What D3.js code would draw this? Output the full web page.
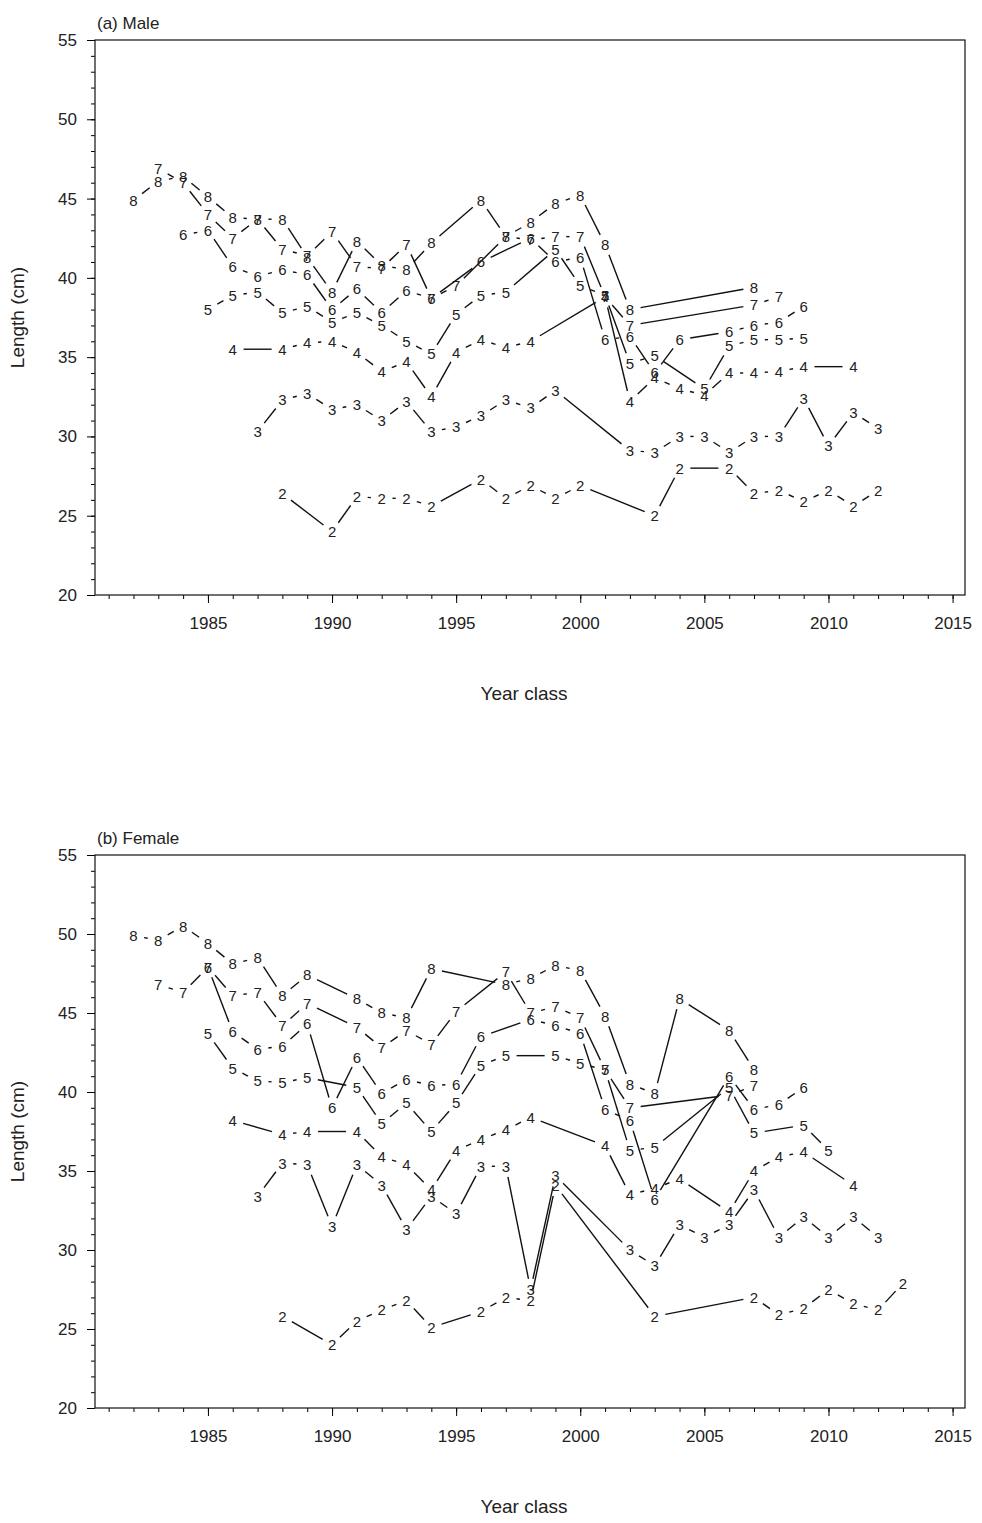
<!DOCTYPE html>
<html>
<head>
<meta charset="utf-8">
<script src="https://cdn.jsdelivr.net/npm/d3@7"></script>
<style>
body { margin: 0; background: #fff; }
text { font-family: "Liberation Sans", Arial, sans-serif; fill: #222; }
</style>
</head>
<body>
<div id="vis"></div>
<script>
const FRAME_WIDTH = 982;
const FRAME_HEIGHT = 1523;

// year class series, one per age, [year, length]
const male8 = [[1982,44.9],[1983,46.1],[1984,46.4],[1985,45.1],[1986,43.8],[1987,43.7],[1988,43.7],[1989,41.3],[1990,39.1],[1991,42.3],[1992,40.8],[1993,40.5],[1994,42.2],[1996,44.9],[1997,42.6],[1998,43.5],[1999,44.7],[2000,45.2],[2001,42.1],[2002,38.0],[2007,39.4]];
const male7 = [[1983,46.9],[1984,46.0],[1985,44.0],[1986,42.5],[1987,43.7],[1988,41.8],[1989,41.4],[1990,42.9],[1991,40.7],[1992,40.6],[1993,42.1],[1994,38.7],[1995,39.5],[1997,42.6],[1998,42.4],[1999,42.6],[2000,42.6],[2001,38.8],[2002,37.0],[2007,38.3],[2008,38.8]];
const male6 = [[1984,42.7],[1985,43.0],[1986,40.7],[1987,40.1],[1988,40.5],[1989,40.2],[1990,38.0],[1991,39.3],[1992,37.8],[1993,39.2],[1994,38.7],[1996,41.0],[1998,42.5],[1999,41.0],[2000,41.3],[2001,36.1],[2002,36.3],[2003,34.0],[2004,36.1],[2006,36.6],[2007,37.0],[2008,37.2],[2009,38.2]];
const male5 = [[1985,38.0],[1986,38.9],[1987,39.1],[1988,37.8],[1989,38.2],[1990,37.2],[1991,37.8],[1992,37.0],[1993,36.0],[1994,35.2],[1995,37.7],[1996,38.9],[1997,39.1],[1999,41.8],[2000,39.5],[2001,38.9],[2002,34.6],[2003,35.1],[2005,33.0],[2006,35.7],[2007,36.1],[2008,36.1],[2009,36.2]];
const male4 = [[1986,35.5],[1988,35.5],[1989,35.9],[1990,36.0],[1991,35.3],[1992,34.1],[1993,34.7],[1994,32.5],[1995,35.3],[1996,36.1],[1997,35.6],[1998,36.0],[2001,38.8],[2002,32.2],[2003,33.7],[2004,33.0],[2005,32.6],[2006,34.0],[2007,34.0],[2008,34.1],[2009,34.4],[2011,34.4]];
const male3 = [[1987,30.3],[1988,32.3],[1989,32.7],[1990,31.7],[1991,32.0],[1992,31.0],[1993,32.2],[1994,30.3],[1995,30.6],[1996,31.3],[1997,32.3],[1998,31.8],[1999,32.9],[2002,29.1],[2003,29.0],[2004,30.0],[2005,30.0],[2006,29.0],[2007,30.0],[2008,30.0],[2009,32.4],[2010,29.4],[2011,31.5],[2012,30.5]];
const male2 = [[1988,26.4],[1990,24.0],[1991,26.2],[1992,26.1],[1993,26.1],[1994,25.6],[1996,27.3],[1997,26.1],[1998,26.9],[1999,26.1],[2000,26.9],[2003,25.0],[2004,28.0],[2006,28.0],[2007,26.4],[2008,26.6],[2009,25.9],[2010,26.6],[2011,25.6],[2012,26.6]];

const female8 = [[1982,49.9],[1983,49.6],[1984,50.5],[1985,49.4],[1986,48.1],[1987,48.5],[1988,46.1],[1989,47.4],[1991,45.9],[1992,45.0],[1993,44.7],[1994,47.8],[1997,46.8],[1998,47.2],[1999,48.0],[2000,47.7],[2001,44.8],[2002,40.5],[2003,39.9],[2004,45.9],[2006,43.9],[2007,41.4]];
const female7 = [[1983,46.8],[1984,46.3],[1985,47.9],[1986,46.1],[1987,46.3],[1988,44.2],[1989,45.6],[1991,44.1],[1992,42.8],[1993,43.9],[1994,43.0],[1995,45.1],[1997,47.6],[1998,45.0],[1999,45.4],[2000,44.7],[2001,41.4],[2002,39.0],[2006,39.8],[2007,40.4]];
const female6 = [[1985,47.9],[1986,43.8],[1987,42.7],[1988,42.9],[1989,44.3],[1990,39.0],[1991,42.2],[1992,39.9],[1993,40.8],[1994,40.4],[1995,40.5],[1996,43.5],[1998,44.6],[1999,44.2],[2000,43.7],[2001,38.9],[2002,38.2],[2003,33.2],[2006,41.0],[2007,38.9],[2008,39.2],[2009,40.3]];
const female5 = [[1985,43.7],[1986,41.5],[1987,40.7],[1988,40.6],[1989,40.9],[1991,40.3],[1992,38.0],[1993,39.3],[1994,37.5],[1995,39.3],[1996,41.7],[1997,42.3],[1999,42.3],[2000,41.8],[2001,41.4],[2002,36.3],[2003,36.5],[2006,40.3],[2007,37.4],[2009,37.9],[2010,36.3]];
const female4 = [[1986,38.2],[1988,37.3],[1989,37.5],[1991,37.5],[1992,35.9],[1993,35.4],[1994,33.8],[1995,36.3],[1996,37.0],[1997,37.6],[1998,38.4],[2001,36.6],[2002,33.5],[2003,33.9],[2004,34.5],[2006,32.4],[2007,35.0],[2008,35.9],[2009,36.2],[2011,34.1]];
const female3 = [[1987,33.4],[1988,35.5],[1989,35.4],[1990,31.5],[1991,35.4],[1992,34.1],[1993,31.3],[1994,33.4],[1995,32.3],[1996,35.3],[1997,35.3],[1998,27.5],[1999,34.7],[2002,30.0],[2003,29.0],[2004,31.6],[2005,30.8],[2006,31.6],[2007,33.8],[2008,30.8],[2009,32.1],[2010,30.8],[2011,32.1],[2012,30.8]];
const female2 = [[1988,25.8],[1990,24.0],[1991,25.5],[1992,26.2],[1993,26.8],[1994,25.1],[1996,26.1],[1997,27.0],[1998,26.8],[1999,34.1],[2003,25.8],[2007,27.0],[2008,25.9],[2009,26.3],[2010,27.5],[2011,26.6],[2012,26.2],[2013,27.9]];

const AGES = ['8','7','6','5','4','3','2'];
const X_TICKS = [1985, 1990, 1995, 2000, 2005, 2010, 2015];
const Y_TICKS = [20, 25, 30, 35, 40, 45, 50, 55];

const PANELS = [
  {title: '(a) Male', top: 40, bottom: 595, series: [male8, male7, male6, male5, male4, male3, male2]},
  {title: '(b) Female', top: 855, bottom: 1408, series: [female8, female7, female6, female5, female4, female3, female2]}
];

const LEFT = 95, RIGHT = 965;
const GAP = 10.8; // space left round each label

const svg = d3.select('#vis').append('svg')
  .attr('width', FRAME_WIDTH).attr('height', FRAME_HEIGHT);

const X_SCALE = d3.scaleLinear().domain([1980.45, 2015.5]).range([LEFT, RIGHT]);

PANELS.forEach((p) => {
  const Y_SCALE = d3.scaleLinear().domain([20, 55]).range([p.bottom, p.top]);
  const g = svg.append('g');

  // axes with minor ticks
  g.append('g').attr('transform', 'translate(0,' + p.bottom + ')')
    .call(d3.axisBottom(X_SCALE).tickValues(d3.range(1981, 2016)).tickSize(4).tickFormat(''));
  g.append('g').attr('transform', 'translate(0,' + p.bottom + ')')
    .call(d3.axisBottom(X_SCALE).tickValues(X_TICKS).tickSize(8).tickPadding(14).tickFormat(d3.format('d')))
    .attr('font-size', '17px');
  g.append('g').attr('transform', 'translate(' + LEFT + ',0)')
    .call(d3.axisLeft(Y_SCALE).tickValues(d3.range(20, 56)).tickSize(4).tickFormat(''));
  g.append('g').attr('transform', 'translate(' + LEFT + ',0)')
    .call(d3.axisLeft(Y_SCALE).tickValues(Y_TICKS).tickSize(8).tickPadding(10))
    .attr('font-size', '17px');
  g.selectAll('.domain').remove();
  g.selectAll('.tick text').attr('font-family', '"Liberation Sans", Arial, sans-serif').attr('fill', '#222');

  g.append('rect').attr('x', LEFT).attr('y', p.top)
    .attr('width', RIGHT - LEFT).attr('height', p.bottom - p.top)
    .attr('fill', 'none').attr('stroke', '#111').attr('stroke-width', 1.2);

  g.append('text').attr('x', LEFT + 2).attr('y', p.top - 11)
    .attr('font-size', '17px').text(p.title);
  g.append('text').attr('x', (LEFT + RIGHT) / 2 - 6).attr('y', p.bottom + 105)
    .attr('text-anchor', 'middle').attr('font-size', '19px').text('Year class');
  g.append('text')
    .attr('transform', 'translate(24,' + ((p.top + p.bottom) / 2) + ') rotate(-90)')
    .attr('text-anchor', 'middle').attr('font-size', '19px').text('Length (cm)');

  p.series.forEach((s, i) => {
    const segs = d3.pairs(s).map(([a, b]) => {
      const x1 = X_SCALE(a[0]), y1 = Y_SCALE(a[1]);
      const x2 = X_SCALE(b[0]), y2 = Y_SCALE(b[1]);
      const len = Math.hypot(x2 - x1, y2 - y1);
      const k = GAP / len;
      return {x1: x1 + (x2 - x1) * k, y1: y1 + (y2 - y1) * k,
              x2: x2 - (x2 - x1) * k, y2: y2 - (y2 - y1) * k, ok: len > 2 * GAP + 1};
    }).filter((d) => d.ok);

    g.selectAll(null).data(segs).enter().append('line')
      .attr('x1', (d) => d.x1).attr('y1', (d) => d.y1)
      .attr('x2', (d) => d.x2).attr('y2', (d) => d.y2)
      .attr('stroke', '#111').attr('stroke-width', 1.4);

    g.selectAll(null).data(s).enter().append('text')
      .attr('x', (d) => X_SCALE(d[0])).attr('y', (d) => Y_SCALE(d[1]))
      .attr('dy', '0.36em').attr('text-anchor', 'middle')
      .attr('font-size', '15px').text(AGES[i]);
  });
});
</script>
</body>
</html>
